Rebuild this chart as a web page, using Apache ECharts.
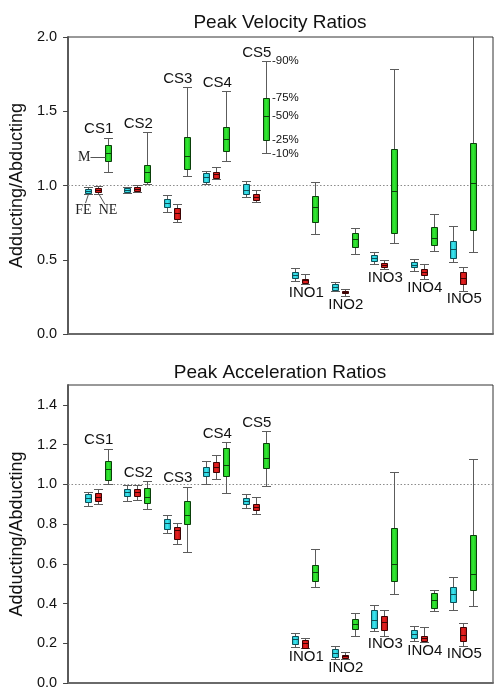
<!DOCTYPE html>
<html><head><meta charset="utf-8">
<script src="https://cdn.jsdelivr.net/npm/echarts@6/dist/echarts.min.js"></script>
<style>html,body{margin:0;padding:0;background:#fff}#c{width:503px;height:698px}</style>
</head><body><div id="c"></div>
<script>
// ---------- data ----------
const groupNames = ['CS1','CS2','CS3','CS4','CS5','INO1','INO2','INO3','INO4','INO5'];
// each entry: [p10, p25, p50, p75, p90]
const velFE = [
  [0.942,0.951,0.962,0.975,0.987],
  [0.948,0.953,0.969,0.984,0.991],
  [0.821,0.857,0.881,0.910,0.933],
  [1.010,1.025,1.056,1.085,1.097],
  [0.922,0.942,0.973,1.007,1.029],
  [0.357,0.379,0.397,0.419,0.446],
  [0.289,0.298,0.316,0.334,0.352],
  [0.471,0.493,0.511,0.529,0.552],
  [0.422,0.449,0.466,0.484,0.505],
  [0.482,0.509,0.572,0.628,0.727]
];
const velNE = [
  [0.946,0.955,0.969,0.984,1.000],
  [0.953,0.960,0.975,0.993,1.002],
  [0.756,0.774,0.814,0.850,0.877],
  [1.041,1.052,1.076,1.094,1.126],
  [0.888,0.903,0.924,0.946,0.973],
  [0.336,0.345,0.361,0.372,0.406],
  [0.256,0.274,0.280,0.287,0.303],
  [0.435,0.449,0.464,0.480,0.500],
  [0.368,0.399,0.419,0.439,0.469],
  [0.291,0.336,0.379,0.415,0.453]
];
const velM = [
  [1.088,1.164,1.220,1.276,1.323],
  [1.007,1.025,1.092,1.137,1.361],
  [1.061,1.112,1.200,1.325,1.662],
  [1.164,1.229,1.316,1.395,1.637],
  [1.216,1.307,1.467,1.590,1.837],
  [0.673,0.756,0.857,0.928,1.023],
  [0.536,0.583,0.637,0.677,0.713],
  [0.610,0.681,0.964,1.249,1.783],
  [0.560,0.601,0.648,0.718,0.807],
  [0.552,0.700,1.014,1.283,2.050]
];
const accFE = [
  [0.890,0.912,0.930,0.950,0.960],
  [0.918,0.942,0.959,0.975,0.996],
  [0.756,0.776,0.803,0.824,0.844],
  [1.004,1.044,1.064,1.086,1.115],
  [0.882,0.903,0.918,0.932,0.952],
  [0.181,0.196,0.222,0.238,0.252],
  [0.122,0.131,0.149,0.169,0.186],
  [0.262,0.275,0.317,0.366,0.391],
  [0.212,0.225,0.245,0.269,0.285],
  [0.369,0.410,0.450,0.482,0.532]
];
const accNE = [
  [0.903,0.917,0.937,0.954,0.979],
  [0.923,0.942,0.960,0.975,0.996],
  [0.702,0.725,0.769,0.786,0.804],
  [1.028,1.064,1.088,1.111,1.147],
  [0.851,0.870,0.887,0.902,0.937],
  [0.174,0.178,0.203,0.218,0.228],
  [0.121,0.127,0.134,0.141,0.154],
  [0.238,0.269,0.309,0.338,0.369],
  [0.207,0.212,0.225,0.235,0.280],
  [0.188,0.210,0.243,0.280,0.300]
];
const accM = [
  [1.001,1.024,1.075,1.115,1.179],
  [0.878,0.905,0.934,0.982,1.016],
  [0.660,0.799,0.848,0.915,0.989],
  [0.954,1.041,1.096,1.184,1.212],
  [0.994,1.080,1.135,1.209,1.266],
  [0.484,0.514,0.561,0.596,0.673],
  [0.238,0.272,0.297,0.324,0.351],
  [0.450,0.515,0.601,0.781,1.063],
  [0.363,0.378,0.416,0.453,0.469],
  [0.388,0.470,0.547,0.746,1.127]
];
const pctLabels = ['-10%','-25%','-50%','-75%','-90%'];
const velTicks = [0, 0.5, 1.0, 1.5, 2.0];
const accTicks = [0, 0.2, 0.4, 0.6, 0.8, 1.0, 1.2, 1.4];
const titles = ['Peak Velocity Ratios', 'Peak Acceleration Ratios'];
const yName = 'Adducting/Abducting';

// ---------- drawing ----------
const SANS = '"Liberation Sans", Arial, sans-serif';
const SERIF = '"Liberation Serif", "Times New Roman", serif';
const colors = {
  FE: {dark:'#14a9b6', base:'#3eeaf4', line:'#0d4f57'},
  NE: {dark:'#b10d0d', base:'#e82222', line:'#3d0303'},
  M:  {dark:'#19b319', base:'#33ec33', line:'#0a3f0a'}
};
function xPos(g, s){ return g*4 + s + 1 + (g >= 5 ? 1 : 0); }

function makeBoxRender(col){
  return function(params, api){
    const x = api.value(0);
    const v = [1,2,3,4,5].map(i => api.value(i));
    const cs = params.coordSys;
    const top = cs.y, bot = cs.y + cs.height;
    const pts = v.map(val => api.coord([x, val]));
    const xi = Math.round(pts[0][0]);
    const cx = xi + 0.5;
    const ys = pts.map(q => Math.round(q[1]) + 0.5);
    const W = '#5c5c5c';
    const ln = (x1,y1,x2,y2,stroke) => ({type:'line', shape:{x1,y1,x2,y2}, style:{stroke, lineWidth:1}});
    const ch = [];
    const yTop = Math.max(top, ys[4]);
    ch.push(ln(cx, yTop, cx, ys[3], W));
    ch.push(ln(cx, ys[1], cx, ys[0], W));
    if (ys[4] >= top) ch.push(ln(xi-4, ys[4], xi+5, ys[4], W));
    if (ys[0] <= bot) ch.push(ln(xi-4, ys[0], xi+5, ys[0], W));
    ch.push({type:'rect', shape:{x: xi-2.5, y: ys[3], width: 6, height: Math.max(1, ys[1]-ys[3])},
      style:{fill: new echarts.graphic.LinearGradient(0,0,1,0,[
        {offset:0, color:col.dark},{offset:0.45, color:col.base},{offset:1, color:col.dark}]),
        stroke: col.line, lineWidth: 1}});
    ch.push(ln(xi-2.5, ys[2], xi+3.5, ys[2], col.line));
    return {type:'group', children: ch};
  };
}

function labelRender(params, api){
  const pt = api.coord([api.value(0), api.value(1)]);
  const above = api.value(2) === 1;
  return {type:'text', x: pt[0] + 1, y: above ? pt[1] - 1 : pt[1] + 1,
    style:{text: groupNames[params.dataIndex], fontSize: 15, fontFamily: SANS, fill:'#111',
      align:'center', verticalAlign: above ? 'bottom' : 'top'}};
}

function pctRender(params, api){
  const pt = api.coord([api.value(0), api.value(1)]);
  return {type:'text', x: Math.round(pt[0]) + 6, y: pt[1],
    style:{text: pctLabels[params.dataIndex], fontSize: 11.5, fontFamily: SANS, fill:'#111',
      align:'left', verticalAlign:'middle'}};
}

function annotRender(params, api){
  const pt = api.coord([api.value(0), api.value(1)]);
  const x = Math.round(pt[0]) + 0.5, y = pt[1];
  const k = params.dataIndex;
  const L = (x1,y1,x2,y2) => ({type:'line', shape:{x1,y1,x2,y2}, style:{stroke:'#555', lineWidth:1}});
  const T = (t,tx,ty,al) => ({type:'text', x:tx, y:ty, style:{text:t, fontSize:14, fontFamily:SERIF, fill:'#222', align:al, verticalAlign:'middle'}});
  if (k === 0) { // M
    const yy = Math.round(y + 4) + 0.5;
    return {type:'group', children:[L(x-18, yy, x-3, yy), T('M', x-18, yy, 'right')]};
  } else if (k === 1) { // FE
    return {type:'group', children:[L(x, y, x-3, y+9), T('FE', x-5, y+16.5, 'center')]};
  } else { // NE
    return {type:'group', children:[L(x, y, x+6.5, y+11), T('NE', x+9.5, y+17, 'center')]};
  }
}

const series = [];
function addPanel(idx, FE, NE, M){
  [[FE, colors.FE, 'FE'], [NE, colors.NE, 'NE'], [M, colors.M, 'M']].forEach(([arr, col, nm], s) => {
    const sr = {type:'custom', name:nm, xAxisIndex:idx, yAxisIndex:idx, z:3, silent:true,
      renderItem: makeBoxRender(col),
      data: arr.map((q, g) => [xPos(g, s)].concat(q)),
      encode:{x:0, y:[1,2,3,4,5]}};
    if (s === 0) {
      sr.markLine = {silent:true, symbol:'none', label:{show:false}, z:1,
        lineStyle:{type:[1.5,2], color:'#8a8a8a', width:1}, data:[{yAxis:1}]};
    }
    series.push(sr);
  });
  series.push({type:'custom', xAxisIndex:idx, yAxisIndex:idx, z:4, silent:true, renderItem: labelRender,
    data: groupNames.map((n, g) => g < 5
      ? [xPos(g,1), Math.max(FE[g][4], NE[g][4], M[g][4]), 1]
      : [xPos(g,1), Math.min(FE[g][0], NE[g][0]), 0]),
    encode:{x:0, y:1}});
}
addPanel(0, velFE, velNE, velM);
addPanel(1, accFE, accNE, accM);
series.push({type:'custom', xAxisIndex:0, yAxisIndex:0, z:4, silent:true, renderItem: pctRender,
  data: velM[4].map(v => [xPos(4,2), v]), encode:{x:0, y:1}});
series.push({type:'custom', xAxisIndex:0, yAxisIndex:0, z:4, silent:true, renderItem: annotRender,
  data: [[xPos(0,2), velM[0][2]], [xPos(0,0), velFE[0][0]], [xPos(0,1), velNE[0][0]]], encode:{x:0, y:1}});

function yAxisCfg(idx, max, interval, ticks){
  return {type:'value', gridIndex:idx, min:0, max:max, interval:interval,
    name: yName, nameLocation:'middle', nameGap:40, nameRotate:90,
    nameTextStyle:{fontSize:18, fontFamily:SANS, color:'#111'},
    axisLine:{show:true, onZero:false, lineStyle:{color:'#5a5a5a', width:2}},
    axisTick:{show:true, length:5, inside:false, lineStyle:{color:'#444'}, customValues: ticks},
    axisLabel:{margin:11, fontSize:14.5, fontFamily:SANS, color:'#111', customValues: ticks,
      formatter: v => v.toFixed(1)},
    splitLine:{show:false}};
}
function xAxisCfg(idx){
  return {type:'value', gridIndex:idx, min:-1, max:42,
    axisLine:{show:true, onZero:false, lineStyle:{color:'#6a6a6a', width:2}},
    axisTick:{show:false}, axisLabel:{show:false}, splitLine:{show:false}};
}

const chart = echarts.init(document.getElementById('c'), null, {renderer:'canvas'});
chart.setOption({
  animation:false,
  backgroundColor:'#fff',
  graphic:[
    {type:'text', x:280, y:23, style:{text:titles[0], fontSize:19, fontFamily:SANS, fill:'#111', align:'center', verticalAlign:'middle'}},
    {type:'text', x:280, y:373, style:{text:titles[1], fontSize:19, fontFamily:SANS, fill:'#111', align:'center', verticalAlign:'middle'}}
  ],
  grid:[
    {left:67, top:37, width:426, height:297, show:true, borderColor:'#333', borderWidth:1, containLabel:false},
    {left:67, top:385, width:426, height:298, show:true, borderColor:'#333', borderWidth:1, containLabel:false}
  ],
  xAxis:[xAxisCfg(0), xAxisCfg(1)],
  yAxis:[yAxisCfg(0, 2.0, 0.5, velTicks), yAxisCfg(1, 1.5, 0.2, accTicks)],
  series: series
});
</script>
</body></html>
